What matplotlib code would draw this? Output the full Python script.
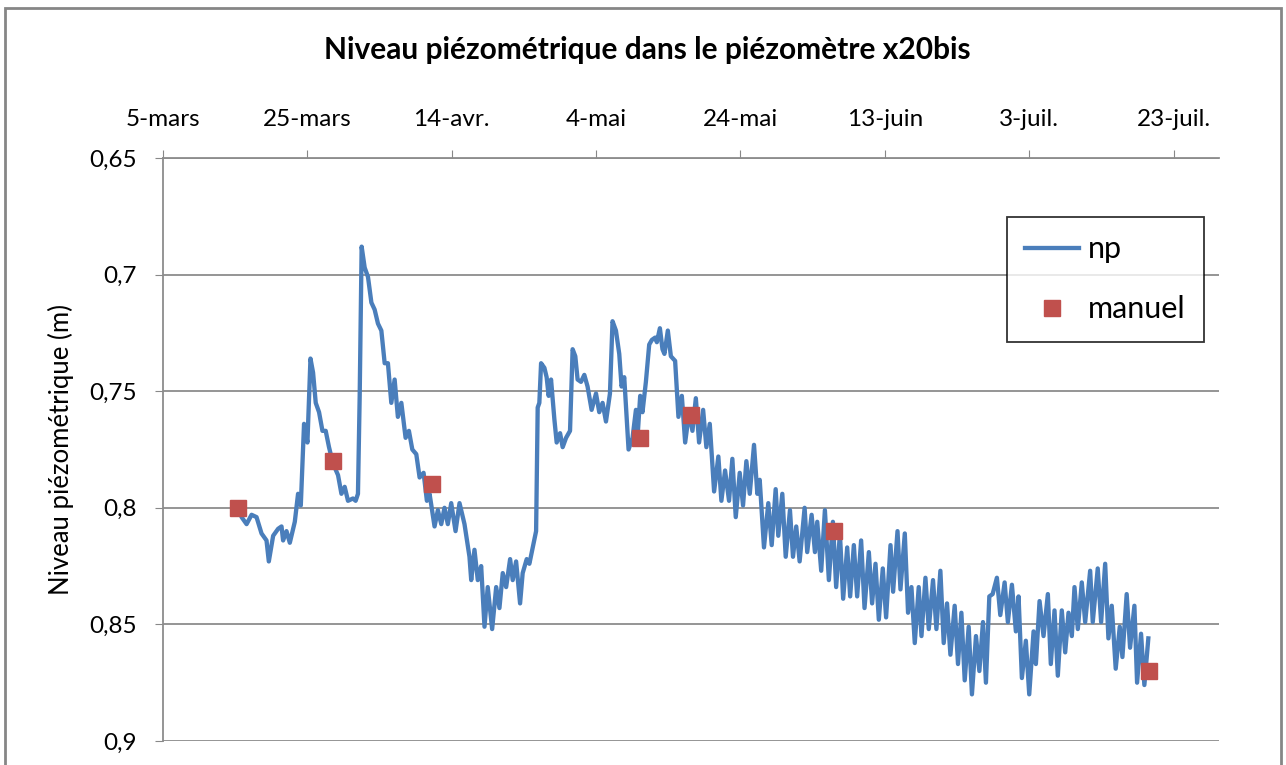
import numpy as np
import matplotlib
matplotlib.use("Agg")
import matplotlib.pyplot as plt
from matplotlib.patches import Rectangle

plt.rcParams['font.family'] = ['Lato', 'DejaVu Sans']

# jours depuis le 5 mars
np_jours = [10.41, 10.89, 11.58, 12.27, 12.96, 13.65, 14.34, 14.66, 15.26, 15.95, 16.42, 16.64,
            17.11, 17.57, 18.26, 18.71, 19.09, 19.54, 20.01, 20.43, 20.79, 21.16, 21.62, 22.09,
            22.54, 23.00, 23.55, 24.25, 24.72, 25.17, 25.63, 26.32, 26.69, 27.01, 27.25, 27.52,
            27.94, 28.40, 28.87, 29.32, 29.78, 30.25, 30.71, 31.16, 31.63, 32.09, 32.54, 33.02,
            33.61, 34.07, 34.54, 35.09, 35.55, 36.10, 36.56, 36.93, 37.62, 38.08, 38.55, 39.00,
            39.46, 39.93, 40.53, 41.08, 41.77, 42.46, 42.70, 43.15, 43.61, 44.08, 44.54, 44.99,
            45.60, 46.16, 46.61, 47.07, 47.54, 48.09, 48.45, 48.92, 49.47, 49.83, 50.39, 50.76,
            51.22, 51.69, 51.91, 52.14, 52.38, 52.84, 53.15, 53.43, 53.76, 54.22, 54.54, 55.01,
            55.37, 55.84, 56.39, 56.75, 57.12, 57.44, 57.91, 58.37, 58.82, 59.38, 59.99, 60.44,
            60.90, 61.37, 61.92, 62.28, 62.75, 63.21, 63.53, 63.90, 64.50, 65.05, 65.52, 65.80,
            66.11, 66.43, 66.90, 67.36, 67.73, 68.19, 68.42, 68.84, 69.20, 69.47, 69.94, 70.36,
            70.95, 71.41, 71.88, 72.34, 72.89, 73.35, 73.82, 74.27, 74.83, 75.28, 75.75, 76.35,
            76.94, 77.36, 77.87, 78.42, 78.88, 79.35, 79.90, 80.36, 80.82, 81.29, 81.88, 82.34,
            82.67, 83.26, 83.86, 84.33, 84.88, 85.24, 85.80, 86.27, 86.86, 87.28, 87.73, 88.20,
            88.89, 89.25, 89.86, 90.32, 90.64, 91.19, 91.70, 92.25, 92.81, 93.26, 93.78, 94.23,
            94.79, 95.20, 95.71, 96.17, 96.72, 97.19, 97.79, 98.24, 98.71, 99.17, 99.72, 100.18,
            100.79, 101.15, 101.76, 102.17, 102.77, 103.22, 103.69, 104.15, 104.70, 105.08, 105.63, 106.09,
            106.68, 107.15, 107.70, 108.16, 108.62, 109.09, 109.68, 110.14, 110.61, 111.07, 111.62, 112.07,
            112.63, 113.10, 113.60, 114.01, 114.48, 114.94, 115.53, 116.00, 116.60, 117.05, 117.61, 118.16,
            118.53, 118.99, 119.54, 120.01, 120.61, 120.93, 121.44, 121.99, 122.59, 123.00, 123.51, 123.97,
            124.52, 124.99, 125.45, 125.91, 126.28, 126.74, 127.29, 127.76, 128.45, 128.81, 129.50, 129.97,
            130.53, 130.98, 131.44, 131.99, 132.55, 132.92, 133.51, 133.98, 134.58, 134.95, 135.50, 135.96,
            136.51]
np_niveau = [0.800, 0.804, 0.807, 0.803, 0.804, 0.811, 0.814, 0.823, 0.812, 0.809, 0.808, 0.814,
             0.810, 0.815, 0.806, 0.794, 0.799, 0.764, 0.772, 0.736, 0.742, 0.755, 0.759, 0.767,
             0.767, 0.774, 0.781, 0.786, 0.794, 0.791, 0.797, 0.796, 0.797, 0.794, 0.752, 0.688,
             0.697, 0.701, 0.712, 0.715, 0.721, 0.724, 0.738, 0.738, 0.755, 0.745, 0.761, 0.755,
             0.770, 0.767, 0.775, 0.777, 0.787, 0.785, 0.797, 0.794, 0.808, 0.801, 0.807, 0.800,
             0.807, 0.798, 0.810, 0.798, 0.807, 0.821, 0.831, 0.818, 0.831, 0.825, 0.851, 0.834,
             0.852, 0.834, 0.843, 0.828, 0.834, 0.822, 0.831, 0.823, 0.841, 0.828, 0.822, 0.824,
             0.817, 0.810, 0.757, 0.755, 0.738, 0.740, 0.744, 0.752, 0.745, 0.762, 0.772, 0.768,
             0.774, 0.770, 0.767, 0.732, 0.735, 0.745, 0.746, 0.743, 0.748, 0.758, 0.751, 0.759,
             0.755, 0.763, 0.751, 0.720, 0.724, 0.734, 0.748, 0.744, 0.775, 0.770, 0.758, 0.767,
             0.752, 0.759, 0.746, 0.730, 0.728, 0.727, 0.729, 0.723, 0.732, 0.734, 0.724, 0.735,
             0.737, 0.761, 0.752, 0.772, 0.759, 0.767, 0.753, 0.772, 0.758, 0.774, 0.764, 0.793,
             0.778, 0.797, 0.784, 0.797, 0.779, 0.804, 0.785, 0.799, 0.780, 0.794, 0.773, 0.794,
             0.788, 0.817, 0.798, 0.816, 0.792, 0.812, 0.794, 0.821, 0.801, 0.821, 0.808, 0.823,
             0.800, 0.819, 0.803, 0.819, 0.806, 0.827, 0.801, 0.831, 0.806, 0.834, 0.811, 0.839,
             0.817, 0.838, 0.816, 0.838, 0.814, 0.843, 0.819, 0.841, 0.824, 0.848, 0.826, 0.847,
             0.816, 0.836, 0.810, 0.835, 0.811, 0.845, 0.834, 0.858, 0.834, 0.855, 0.830, 0.852,
             0.831, 0.852, 0.827, 0.858, 0.841, 0.863, 0.842, 0.867, 0.845, 0.874, 0.851, 0.880,
             0.855, 0.870, 0.849, 0.875, 0.838, 0.837, 0.830, 0.846, 0.832, 0.849, 0.833, 0.853,
             0.838, 0.873, 0.857, 0.880, 0.853, 0.867, 0.840, 0.855, 0.837, 0.867, 0.844, 0.872,
             0.844, 0.862, 0.845, 0.855, 0.834, 0.852, 0.832, 0.849, 0.827, 0.849, 0.826, 0.849,
             0.824, 0.856, 0.842, 0.869, 0.851, 0.864, 0.837, 0.860, 0.842, 0.875, 0.854, 0.876,
             0.856]

manuel_jours = [10.4, 23.6, 37.3, 66.1, 73.2, 92.9, 136.6]
manuel_niveau = [0.80, 0.78, 0.79, 0.77, 0.76, 0.81, 0.87]

tick_jours = [0, 20, 40, 60, 80, 100, 120, 140]
tick_labels = ['5-mars', '25-mars', '14-avr.', '4-mai', '24-mai', '13-juin', '3-juil.', '23-juil.']
y_ticks = [0.65, 0.7, 0.75, 0.8, 0.85, 0.9]
y_labels = ['0,65', '0,7', '0,75', '0,8', '0,85', '0,9']

fig = plt.figure(figsize=(12.86, 7.65), dpi=100)
ax = fig.add_axes([163 / 1286, 1 - 741 / 765, (1219 - 163) / 1286, (741 - 158) / 765])

ax.plot(np_jours, np_niveau, color='#4a7ebb', lw=3.1, label='np', zorder=3)
ax.plot(manuel_jours, manuel_niveau, ls='none', marker='s', ms=11, color='#c0504d',
        mec='#c0504d', label='manuel', zorder=4)

ax.set_xlim(0, 146.3)
ax.set_ylim(0.9, 0.65)
ax.set_yticks(y_ticks)
ax.set_yticklabels(y_labels)
ax.set_xticks(tick_jours)
ax.set_xticklabels(tick_labels)
ax.xaxis.tick_top()
ax.tick_params(axis='x', direction='out', length=5.8, color='#888888', labelsize=17.5, pad=14)
ax.tick_params(axis='y', direction='out', length=5.8, color='#888888', labelsize=17.5, pad=13)
ax.grid(axis='y', color='#8c8c8c', lw=1.3)
ax.set_axisbelow(True)
for s in ['right', 'bottom']:
    ax.spines[s].set_visible(False)
for s in ['left', 'top']:
    ax.spines[s].set_color('#8c8c8c')
    ax.spines[s].set_linewidth(1.3)

ax.set_ylabel('Niveau piézométrique (m)', fontsize=18.5, va='center')
ax.yaxis.set_label_coords((61 - 163) / 1056, 0.5)
fig.text(647.5 / 1286, 1 - 50 / 765, 'Niveau piézométrique dans le piézomètre x20bis',
         ha='center', va='center', fontsize=21.5, fontweight='bold')

leg = ax.legend(loc='upper left', bbox_to_anchor=((1007 - 163) / 1056, 1 - (217 - 158) / 583),
                fontsize=22, frameon=True, fancybox=False, edgecolor='black',
                handlelength=1.75, handletextpad=0.3, labelspacing=1.05, borderpad=0.6,
                borderaxespad=0)
leg.get_frame().set_linewidth(1.3)

fig.patches.append(Rectangle((5 / 1286, -0.01), (1281 - 5) / 1286, 1 - 8 / 765 + 0.01,
                             transform=fig.transFigure, fill=False, edgecolor='#868686', lw=2))

fig.savefig('out.png', dpi=100)
